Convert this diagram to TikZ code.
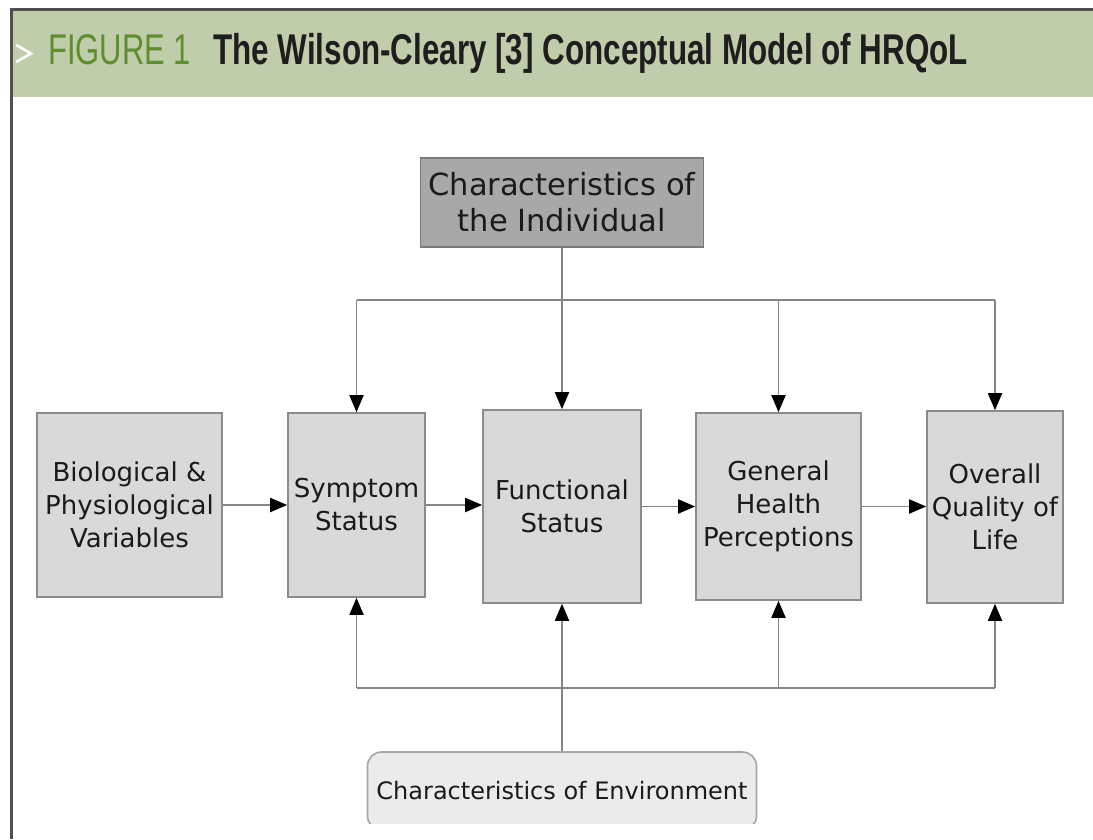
\documentclass[tikz,border=0pt]{standalone}
\usepackage{fontspec}
\setmainfont{DejaVu Sans}
\newfontfamily\hdrfont{Liberation Sans}
\usetikzlibrary{arrows.meta}

\definecolor{hdrgreen}{HTML}{BFCDAA}
\definecolor{figgreen}{HTML}{5E8E2E}
\definecolor{titleblack}{HTML}{1E1E1E}
\definecolor{framec}{HTML}{505050}
\definecolor{boxfill}{HTML}{D9D9D9}
\definecolor{boxline}{HTML}{8C8C8C}
\definecolor{indfill}{HTML}{A8A8A8}
\definecolor{indline}{HTML}{7A7A7A}
\definecolor{envfill}{HTML}{EBEBEB}
\definecolor{envline}{HTML}{A6A6A6}
\definecolor{wirec}{HTML}{858585}
\definecolor{txtc}{HTML}{1A1A1A}

\tikzset{
  stagebox/.style={draw=boxline, fill=boxfill, line width=1.6pt, inner sep=0pt,
    align=center, text=txtc, font=\fontsize{26}{33}\selectfont},
  indivbox/.style={draw=indline, fill=indfill, line width=1.6pt, inner sep=0pt,
    align=center, text=txtc, font=\fontsize{30.5}{36}\selectfont},
  envbox/.style={draw=envline, fill=envfill, line width=1.6pt, inner sep=0pt,
    rounded corners=14pt, align=center, text=txtc, font=\fontsize{24}{28}\selectfont},
  wire/.style={draw=wirec, line width=1.8pt},
  conn/.style={wire, -{Triangle[length=17pt,width=14pt,color=black]}},
}

\begin{document}
\begin{tikzpicture}[x=1pt, y=-1pt]
\useasboundingbox (0,0) rectangle (1093,839);

% header band and frame
\fill[white] (0,0) rectangle (1093,839);
\fill[hdrgreen] (11,11) rectangle (1093,97);
\draw[framec, line width=3pt] (11,839) -- (11,9.5) -- (1093,9.5);
\draw[white, line width=2.6pt, line join=miter] (16,45) -- (31,53.5) -- (16,62);
\node[anchor=base west, inner sep=0pt, text=figgreen] (fig) at (48,64)
  {\hdrfont\scalebox{0.72}[1]{\fontsize{43}{43}\selectfont FIGURE 1}};
\node[anchor=base west, inner sep=0pt, text=titleblack] (title) at (213,64)
  {\hdrfont\bfseries\scalebox{0.73}[1]{\fontsize{43}{43}\selectfont The Wilson-Cleary [3] Conceptual Model of HRQoL}};

% boxes
\node[indivbox, minimum width=283pt, minimum height=89pt] (indiv) at (562,202.5)
  {Characteristics of\\the Individual};
\node[stagebox, minimum width=185pt, minimum height=184pt] (bio) at (129.5,505)
  {Biological \&\\Physiological\\Variables};
\node[stagebox, minimum width=137pt, minimum height=184pt] (sym) at (356.5,505)
  {Symptom\\Status};
\node[stagebox, minimum width=158pt, minimum height=193pt] (func) at (562,506.5)
  {Functional\\Status};
\node[stagebox, minimum width=165pt, minimum height=187pt] (gen) at (778.5,506.5)
  {General\\Health\\Perceptions};
\node[stagebox, minimum width=136pt, minimum height=192pt] (oql) at (995,507)
  {Overall\\Quality of\\Life};
\begin{scope}
  \clip (300,700) rectangle (800,823);
  \node[envbox, minimum width=389pt, minimum height=78pt] (env) at (562,791)
    {Characteristics of Environment};
\end{scope}

% bus levels
\coordinate (tb) at (0,300);
\coordinate (bb) at (0,688);

% main chain
\draw[conn] (bio.east) -- (sym.west);
\draw[conn] (sym.east) -- (sym.east -| func.west);
\draw[conn] (func.east) -- (func.east -| gen.west);
\draw[conn] (gen.east) -- (gen.east -| oql.west);

% individual characteristics
\draw[wire] (sym.north |- tb) -- (oql.north |- tb);
\draw[conn] (indiv.south) -- (indiv.south |- func.north);
\draw[conn] (sym.north |- tb) -- (sym.north);
\draw[conn] (gen.north |- tb) -- (gen.north);
\draw[conn] (oql.north |- tb) -- (oql.north);

% environmental characteristics
\draw[wire] (sym.south |- bb) -- (oql.south |- bb);
\draw[conn] (env.north) -- (env.north |- func.south);
\draw[conn] (sym.south |- bb) -- (sym.south);
\draw[conn] (gen.south |- bb) -- (gen.south);
\draw[conn] (oql.south |- bb) -- (oql.south);
\end{tikzpicture}
\end{document}
